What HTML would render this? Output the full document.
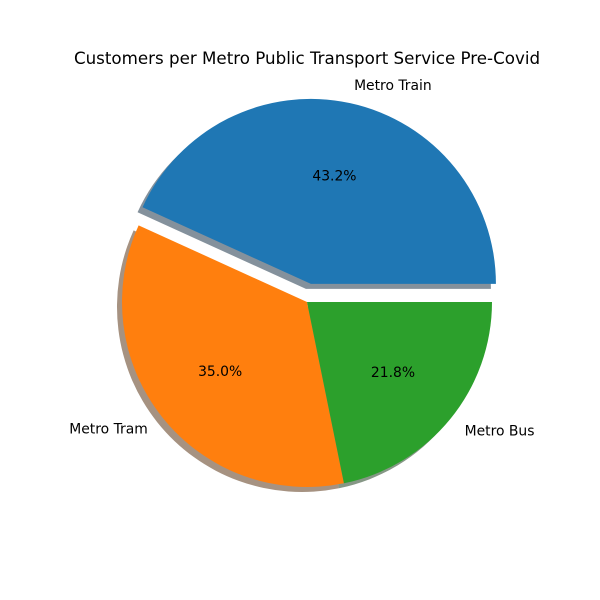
<!DOCTYPE html>
<html><head><meta charset="utf-8"><style>
html,body{margin:0;padding:0;background:#fff;}
svg{display:block;font-family:"DejaVu Sans","Liberation Sans",sans-serif;}
</style></head><body>
<svg id="chart" width="600" height="600" viewBox="0 0 600 600">
<rect width="600" height="600" fill="#fff"/>
<text x="307" y="64" text-anchor="middle" font-size="16.7" fill="#000">Customers per Metro Public Transport Service Pre-Covid</text>
<g id="shadows"></g><g id="slices"></g><g id="labels"></g>
</svg>
<script>
const categories = ["Metro Train", "Metro Tram", "Metro Bus"];
const values = [43.2, 35.0, 21.8];
const explode = [0.1, 0, 0];
const colors = ["#1f77b4", "#ff7f0e", "#2ca02c"];
const shadowColors = ["#09233a", "#4d2604", "#0d300d"];

const cx = 307, cy = 302, R = 185;
const NS = "http://www.w3.org/2000/svg";
const total = values.reduce((a, b) => a + b, 0);
const sh = document.getElementById("shadows"), sl = document.getElementById("slices"), lb = document.getElementById("labels");
function pt(x0, y0, r, deg) { const a = deg * Math.PI / 180; return [x0 + r * Math.cos(a), y0 - r * Math.sin(a)]; }
function arcPath(x0, y0, a0, a1) {
  const p0 = pt(x0, y0, R, a0), p1 = pt(x0, y0, R, a1);
  const large = (a1 - a0) > 180 ? 1 : 0;
  return `M${x0},${y0} L${p0[0]},${p0[1]} A${R},${R} 0 ${large} 0 ${p1[0]},${p1[1]} Z`;
}
let start = 0;
values.forEach((v, i) => {
  const sweep = v / total * 360, end = start + sweep, mid = (start + end) / 2;
  const [x0, y0] = pt(cx, cy, explode[i] * R, mid);
  const s = document.createElementNS(NS, "path");
  s.setAttribute("d", arcPath(x0 - 5, y0 + 5, start, end));
  s.setAttribute("fill", shadowColors[i]); s.setAttribute("fill-opacity", "0.5");
  
  
  sh.appendChild(s);
  const p = document.createElementNS(NS, "path");
  p.setAttribute("d", arcPath(x0, y0, start, end));
  p.setAttribute("fill", colors[i]);
  
  
  sl.appendChild(p);
  const [lx, ly] = pt(x0, y0, 1.1 * R, mid);
  const t = document.createElementNS(NS, "text");
  t.setAttribute("x", lx); t.setAttribute("y", ly + 5); t.setAttribute("font-size", "13.9");
  t.setAttribute("text-anchor", Math.cos(mid * Math.PI / 180) >= 0 ? "start" : "end");
  t.textContent = categories[i];
  
  
  lb.appendChild(t);
  const [px, py] = pt(x0, y0, 0.6 * R, mid);
  const q = document.createElementNS(NS, "text");
  q.setAttribute("x", px); q.setAttribute("y", py + 5); q.setAttribute("font-size", "13.9");
  q.setAttribute("text-anchor", "middle");
  q.textContent = (v / total * 100).toFixed(1) + "%";
  
  
  lb.appendChild(q);
  start = end;
});
</script>
</body></html>
